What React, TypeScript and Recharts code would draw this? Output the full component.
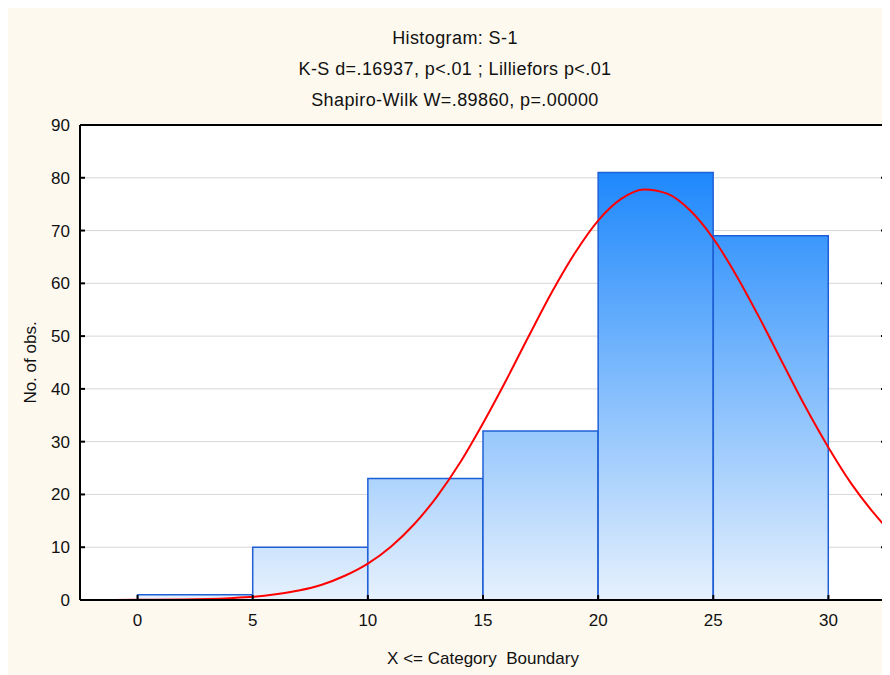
import React from "react";
import {
  ComposedChart,
  Bar,
  Line,
  XAxis,
  YAxis,
  CartesianGrid,
} from "recharts";

// Histogram bins (mid points, counts)
const binMids = [2.5, 7.5, 12.5, 17.5, 22.5, 27.5];
const binCounts = [1, 10, 23, 32, 81, 69];

// Expected normal curve
const curveX = [
  -2.5, 0, 2, 4, 5, 6, 7, 8, 9, 10, 11, 12, 13, 14, 15, 16, 17, 18, 19, 20,
  21, 22, 23, 24, 25, 26, 27, 28, 29, 30, 31, 32, 32.5,
];
const curveY = [
  0, 0.03, 0.1, 0.35, 0.6, 1.1, 1.8, 2.9, 4.6, 6.9, 10.1, 14.3, 19.6, 26.0,
  33.5, 41.6, 50.1, 58.4, 65.8, 71.9, 76.0, 77.8, 77.0, 73.8, 68.5, 61.5, 53.5,
  45.0, 36.6, 28.9, 22.0, 16.3, 13.8,
];

const xTicks = [0, 5, 10, 15, 20, 25, 30];
const yTicks = [0, 10, 20, 30, 40, 50, 60, 70, 80, 90];

const titleLines = [
  "Histogram: S-1",
  "K-S d=.16937, p<.01 ; Lilliefors p<.01",
  "Shapiro-Wilk W=.89860, p=.00000",
];

const W = 882;
const H = 667;
const FONT = '"Liberation Sans", Arial, sans-serif';
// top/right axes take 1px each
const margin = { top: 116, right: 3, bottom: 0, left: 0 };

export default function App() {
  const bins = binMids.map((mid, i) => ({ mid, count: binCounts[i] }));
  const curve = curveX.map((x, i) => ({ x, y: curveY[i] }));

  const axisLine = { stroke: "#000", strokeWidth: 2 };
  const tickLine = { stroke: "#000", strokeWidth: 2 };
  const tick = { fill: "#111", fontSize: 17, fontFamily: FONT };

  // plot area in svg pixels, used only for the gradient
  const plotTop = 117;
  const plotBottom = H - 75;
  const gradTop = plotBottom - ((plotBottom - plotTop) * 81) / 90;

  return (
    <div
      style={{
        position: "relative",
        width: W,
        height: H,
        background: "#fdf9ef",
        fontFamily: FONT,
      }}
    >
      <svg
        width={W}
        height={110}
        style={{ position: "absolute", left: 0, top: 0 }}
      >
        {titleLines.map((t, i) => (
          <text
            key={t}
            x={447}
            y={36 + i * 31}
            textAnchor="middle"
            fontSize={18}
            fontFamily={FONT}
            fill="#111"
            letterSpacing={0.4}
          >
            {t}
          </text>
        ))}
      </svg>
      <ComposedChart
        width={W}
        height={H}
        data={bins}
        margin={margin}
        barCategoryGap={0}
        barGap={0}
        style={{ position: "absolute", left: 0, top: 0 }}
      >
        <defs>
          <linearGradient
            id="barFill"
            gradientUnits="userSpaceOnUse"
            x1={0}
            x2={0}
            y1={gradTop}
            y2={plotBottom}
          >
            <stop offset="0%" stopColor="#1e88fc" />
            <stop offset="100%" stopColor="#e6f1fd" />
          </linearGradient>
        </defs>
        <CartesianGrid
          vertical={false}
          xAxisId="curve"
          yAxisId="left"
          fill="#ffffff"
          stroke="#d6d6d6"
          strokeWidth={1}
        />
        <Bar
          dataKey="count"
          xAxisId="bins"
          yAxisId="left"
          fill="url(#barFill)"
          stroke="#1f5fd6"
          strokeWidth={1.5}
          isAnimationActive={false}
        />
        <Line
          data={curve}
          dataKey="y"
          xAxisId="curve"
          yAxisId="left"
          type="monotone"
          stroke="#ff0000"
          strokeWidth={2}
          dot={false}
          isAnimationActive={false}
        />
        <XAxis
          xAxisId="bins"
          dataKey="mid"
          type="number"
          domain={[-2.5, 32.5]}
          allowDataOverflow
          height={0}
          hide
        />
        <XAxis
          xAxisId="curve"
          dataKey="x"
          type="number"
          domain={[-2.5, 32.5]}
          allowDataOverflow
          ticks={xTicks}
          height={75}
          tickSize={-5}
          tickMargin={19}
          axisLine={axisLine}
          tickLine={tickLine}
          tick={tick}
          label={{
            value: "X <= Category\u00a0\u00a0Boundary",
            position: "insideBottom",
            offset: 11,
            fontSize: 17,
            fontFamily: FONT,
            fill: "#111",
          }}
        />
        <XAxis
          xAxisId="top"
          orientation="top"
          type="number"
          domain={[-2.5, 32.5]}
          allowDataOverflow
          ticks={xTicks}
          height={1}
          tickSize={-5}
          tickFormatter={() => ""}
          axisLine={axisLine}
          tickLine={tickLine}
        />
        <YAxis
          yAxisId="left"
          type="number"
          domain={[0, 90]}
          allowDataOverflow
          ticks={yTicks}
          width={72}
          tickSize={-5}
          tickMargin={15}
          axisLine={axisLine}
          tickLine={tickLine}
          tick={tick}
          label={{
            content: (props: any) => {
              const vb = props.viewBox || { x: 0, y: 117, width: 72, height: 475 };
              const cx = vb.x + 28;
              const cy = vb.y + vb.height / 2;
              return (
                <text
                  x={cx}
                  y={cy}
                  transform={`rotate(-90 ${cx} ${cy})`}
                  textAnchor="middle"
                  fontSize={17}
                  fontFamily={FONT}
                  fill="#111"
                >
                  No. of obs.
                </text>
              );
            },
          }}
        />
        <YAxis
          yAxisId="right"
          orientation="right"
          type="number"
          domain={[0, 90]}
          allowDataOverflow
          ticks={yTicks}
          width={1}
          tickSize={-5}
          tickFormatter={() => ""}
          axisLine={axisLine}
          tickLine={tickLine}
        />
      </ComposedChart>
    </div>
  );
}
